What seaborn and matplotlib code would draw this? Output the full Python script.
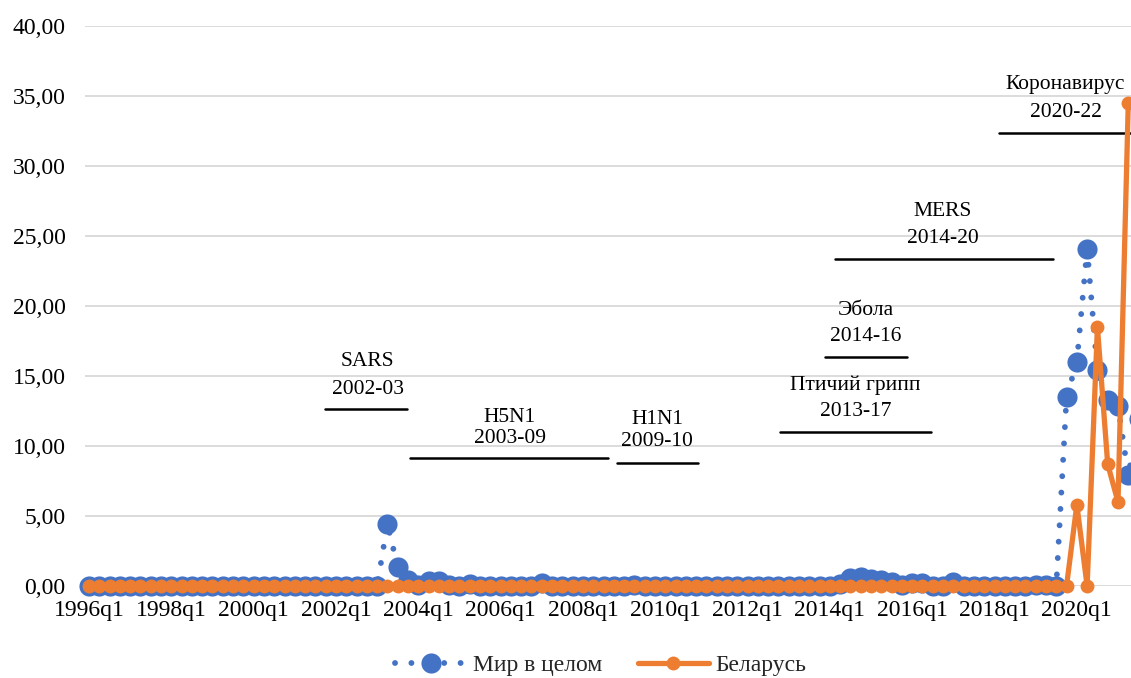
import numpy as np
import pandas as pd
import matplotlib
matplotlib.use("Agg")
import matplotlib.pyplot as plt
from matplotlib.ticker import FuncFormatter
import seaborn as sns

# ---------------- data ----------------
years = list(range(1996, 2022))
quarters = [f"{y}q{q}" for y in years for q in range(1, 5)][:103]  # 1996q1 .. 2021q3

# World (Мир в целом), one row = two years (8 quarters)
world = [
    0, 0, 0, 0, 0, 0, 0, 0,              # 1996-1997
    0, 0, 0, 0, 0, 0, 0, 0,              # 1998-1999
    0, 0, 0, 0, 0, 0, 0, 0,              # 2000-2001
    0, 0, 0, 0, 0, 4.45, 1.35, 0.4,      # 2002-2003
    0.1, 0.35, 0.35, 0.1, 0, 0.15, 0, 0,  # 2004-2005
    0, 0, 0, 0, 0.25, 0, 0, 0,           # 2006-2007
    0, 0, 0, 0, 0, 0.1, 0, 0,            # 2008-2009
    0, 0, 0, 0, 0, 0, 0, 0,              # 2010-2011
    0, 0, 0, 0, 0, 0, 0, 0,              # 2012-2013
    0, 0.15, 0.6, 0.65, 0.5, 0.45, 0.3, 0.1,  # 2014-2015
    0.25, 0.25, 0, 0, 0.3, 0, 0, 0,      # 2016-2017
    0, 0, 0, 0, 0.1, 0.1, 0, 13.5,       # 2018-2019
    16.0, 24.1, 15.4, 13.3, 12.85, 7.9, 11.9,  # 2020-2021q3
]
# Belarus (Беларусь)
belarus = [0] * 96 + [5.8, 0.0, 18.5, 8.7, 6.0, 34.5, np.nan]

series_names = ["Мир в целом", "Беларусь"]
tick_labels = [f"{y}q1" for y in range(1996, 2021, 2)]

# annotations
ann_text1 = ["SARS", "H5N1", "H1N1", "MERS", "Эбола", "Птичий грипп", "Коронавирус"]
ann_text2 = ["2002-03", "2003-09", "2009-10", "2014-20", "2014-16", "2013-17", "2020-22"]
ann_xc = [27.1, 40.9, 55.2, 83.0, 75.5, 74.5, 94.9]
ann_y1 = [16.02, 12.07, 11.86, 26.74, 19.71, 14.31, 35.79]
ann_y2 = [14.00, 10.57, 10.31, 24.79, 17.81, 12.45, 33.79]
ann_x0 = [22.9, 31.2, 51.3, 72.5, 71.5, 67.2, 88.4]
ann_x1 = [30.9, 50.4, 59.2, 93.65, 79.5, 81.8, 102.5]
ann_yr = [12.64, 9.12, 8.81, 23.36, 16.38, 10.98, 32.39]

df = pd.DataFrame({"idx": np.arange(len(quarters)), "quarter": quarters,
                   series_names[0]: world, series_names[1]: belarus})

# ---------------- style ----------------
sns.set_theme(style="white")
plt.rcParams["font.family"] = ["Liberation Serif", "DejaVu Serif"]
FS_TICK = 17
FS_ANN = 15.5

W, H = 1131, 678
fig = plt.figure(figsize=(W / 100, H / 100), dpi=100)
left_px, right_px, top_px, bot_px = 85, 1131, 26, 586
ax = fig.add_axes([left_px / W, 1 - bot_px / H, (right_px - left_px) / W, (bot_px - top_px) / H])

BLUE = "#4472C4"
ORANGE = "#ED7D31"

sns.lineplot(data=df, x="idx", y=series_names[0], ax=ax, color=BLUE,
             linewidth=4.2, linestyle=(0, (0.01, 2.8)), dash_capstyle="round",
             marker="o", markersize=14.5, markeredgewidth=0, markeredgecolor=BLUE,
             label=series_names[0], errorbar=None, clip_on=False, zorder=3)
dfb = df.dropna(subset=[series_names[1]])
sns.lineplot(data=dfb, x="idx", y=series_names[1], ax=ax, color=ORANGE,
             linewidth=3.8, solid_joinstyle="round",
             marker="o", markersize=10, markeredgewidth=0, markeredgecolor=ORANGE,
             label=series_names[1], errorbar=None, clip_on=False, zorder=4)

px_per_q = 10.29
ax.set_xlim(-(89 - left_px) / px_per_q, (right_px - 89) / px_per_q)
ax.set_ylim(0, 40)
ax.set_yticks(np.arange(0, 41, 5))
ax.yaxis.set_major_formatter(FuncFormatter(lambda v, p: f"{v:.2f}".replace(".", ",")))
ax.set_xticks(np.arange(0, 97, 8))
ax.set_xticklabels(tick_labels)
ax.set_xlabel("")
ax.set_ylabel("")
ax.grid(axis="y", color="#d9d9d9", linewidth=1.3)
ax.grid(axis="x", visible=False)
ax.set_axisbelow(True)
for s in ax.spines.values():
    s.set_visible(False)
ax.tick_params(axis="y", length=0, pad=14, labelsize=FS_TICK, colors="black")
ax.tick_params(axis="x", length=0, pad=10, labelsize=FS_TICK, colors="black")

# annotations
for t1, t2, xc, y1, y2, x0, x1, yr in zip(ann_text1, ann_text2, ann_xc, ann_y1,
                                           ann_y2, ann_x0, ann_x1, ann_yr):
    ax.text(xc, y1, t1, ha="center", va="center", fontsize=FS_ANN, color="black", zorder=5)
    ax.text(xc, y2, t2, ha="center", va="center", fontsize=FS_ANN, color="black", zorder=5)
    ax.plot([x0, x1], [yr, yr], color="black", linewidth=1.8, zorder=2, clip_on=False)

handles, labels = ax.get_legend_handles_labels()
if ax.get_legend() is not None:
    ax.get_legend().remove()
fig.legend(handles[:2], labels[:2], loc="center", bbox_to_anchor=(601 / W, 1 - 665 / H),
           ncol=2, frameon=False, fontsize=FS_TICK, handlelength=3.0, handletextpad=0.3,
           columnspacing=1.5, numpoints=1)

fig.savefig("out.png", dpi=100)
